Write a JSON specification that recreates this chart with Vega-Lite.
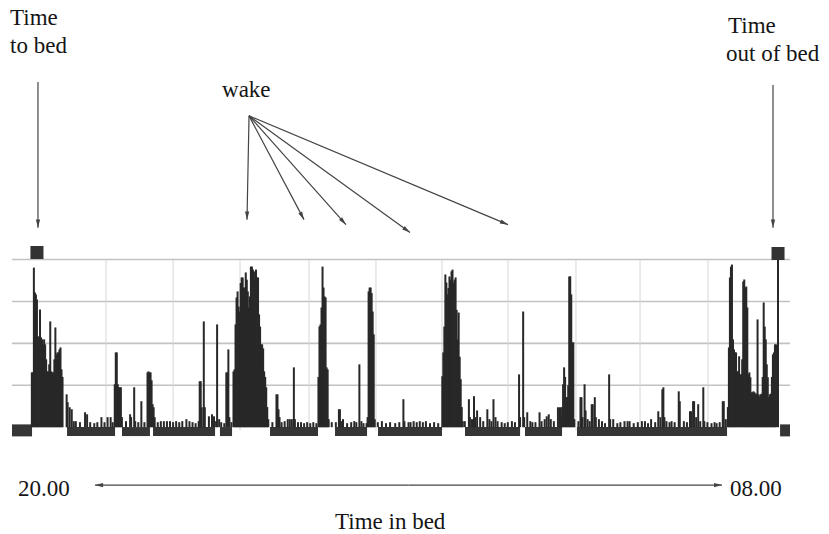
{
"$schema": "https://vega.github.io/schema/vega-lite/v6.json",
"width": 829, "height": 534,
"autosize": {"type": "fit", "contains": "padding"},
"padding": 0,
"background": "white",
"config": {"view": {"stroke": null}},
"datasets": {
"hgrid": [{"c":250,"a":-26.4,"b":733.7},{"c":500,"a":-26.4,"b":733.7},{"c":750,"a":-26.4,"b":733.7},{"c":1000,"a":-26.4,"b":733.7}],
"vgrid": [{"m":65.5,"a":1000,"b":-20},{"m":131,"a":1000,"b":-20},{"m":196.4,"a":1000,"b":-20},{"m":263.8,"a":1000,"b":-20},{"m":329.2,"a":1000,"b":-20},{"m":393.7,"a":1000,"b":-20},{"m":458.2,"a":1000,"b":-20},{"m":524.6,"a":1000,"b":-20},{"m":587.2,"a":1000,"b":-20},{"m":653.6,"a":1000,"b":-20}],
"sleep": [{"s":27.4,"e":74.3,"lvl":-26},{"s":81.1,"e":108.4,"lvl":-26},{"s":111.4,"e":172,"lvl":-26},{"s":176.8,"e":188.6,"lvl":-26},{"s":225.7,"e":272.6,"lvl":-26},{"s":289.2,"e":320.5,"lvl":-26},{"s":331.2,"e":393.7,"lvl":-26},{"s":416.2,"e":470,"lvl":-26},{"s":474.8,"e":511,"lvl":-26},{"s":525.6,"e":672.2,"lvl":-26}],
"outbed": [{"s":-26.4,"e":-6.8,"lvl":-19},{"s":724,"e":733.7,"lvl":-19}],
"markers": [{"m":-2,"c":1042},{"m":722,"c":1036}],
"spikes": [
{"m":-7,"c":327},{"m":-6,"c":327},{"m":-5,"c":952},{"m":-4,"c":804},{"m":-3,"c":792},{"m":-2,"c":762},{"m":-1,"c":542},{"m":0,"c":524},{"m":1,"c":702},{"m":2,"c":536},{"m":3,"c":524},{"m":4,"c":494},{"m":5,"c":524},{"m":6,"c":494},{"m":7,"c":405},{"m":8,"c":333},{"m":9,"c":333},{"m":10,"c":375},{"m":11,"c":631},{"m":12,"c":333},{"m":13,"c":327},{"m":14,"c":327},{"m":15,"c":405},{"m":16,"c":595},{"m":17,"c":434},{"m":18,"c":446},{"m":19,"c":446},{"m":20,"c":464},{"m":21,"c":476},{"m":22,"c":345},{"m":23,"c":300},
{"m":27,"c":196},{"m":28,"c":149},{"m":30,"c":119},{"m":32,"c":107},{"m":34,"c":36},{"m":36,"c":36},{"m":40,"c":30},{"m":45,"c":89},{"m":47,"c":77},{"m":50,"c":30},{"m":54,"c":24},{"m":57,"c":30},{"m":61,"c":60},{"m":64,"c":30},{"m":67,"c":60},{"m":70,"c":60},{"m":72,"c":30},
{"m":74,"c":256},{"m":75,"c":446},{"m":76,"c":446},{"m":77,"c":256},{"m":78,"c":238},{"m":79,"c":238},{"m":80,"c":238},{"m":81,"c":60},{"m":85,"c":36},{"m":89,"c":77},{"m":90,"c":60},{"m":93,"c":238},{"m":94,"c":36},{"m":97,"c":30},{"m":100,"c":155},{"m":103,"c":30},
{"m":106,"c":327},{"m":107,"c":333},{"m":108,"c":327},{"m":109,"c":327},{"m":110,"c":280},{"m":111,"c":137},{"m":112,"c":119},{"m":113,"c":60},{"m":116,"c":30},{"m":119,"c":36},{"m":122,"c":36},{"m":125,"c":36},{"m":128,"c":36},{"m":131,"c":30},{"m":134,"c":36},{"m":137,"c":30},{"m":140,"c":36},{"m":144,"c":48},{"m":147,"c":36},{"m":150,"c":30},{"m":153,"c":24},{"m":156,"c":36},{"m":157,"c":274},{"m":158,"c":274},{"m":159,"c":119},{"m":161,"c":631},{"m":162,"c":119},{"m":166,"c":65},{"m":169,"c":77},{"m":171,"c":65},{"m":173,"c":36},{"m":174,"c":613},{"m":176,"c":48},{"m":178,"c":30},{"m":181,"c":24},{"m":183,"c":327},{"m":184,"c":327},{"m":185,"c":464},{"m":186,"c":60},{"m":188,"c":30},
{"m":190,"c":333},{"m":191,"c":345},{"m":192,"c":613},{"m":193,"c":774},{"m":194,"c":810},{"m":195,"c":720},{"m":196,"c":690},{"m":197,"c":860},{"m":198,"c":893},{"m":199,"c":893},{"m":200,"c":833},{"m":201,"c":833},{"m":202,"c":923},{"m":203,"c":880},{"m":204,"c":810},{"m":205,"c":714},{"m":206,"c":780},{"m":207,"c":958},{"m":208,"c":958},{"m":209,"c":940},{"m":210,"c":929},{"m":211,"c":880},{"m":212,"c":940},{"m":213,"c":893},{"m":214,"c":893},{"m":215,"c":673},{"m":216,"c":600},{"m":217,"c":494},{"m":218,"c":494},{"m":219,"c":470},{"m":220,"c":333},{"m":221,"c":300},{"m":222,"c":238},{"m":223,"c":120},{"m":224,"c":48},
{"m":228,"c":30},{"m":232,"c":196},{"m":233,"c":196},{"m":234,"c":107},{"m":235,"c":60},{"m":237,"c":30},{"m":240,"c":36},{"m":243,"c":48},{"m":245,"c":48},{"m":247,"c":48},{"m":249,"c":357},{"m":250,"c":48},{"m":253,"c":30},{"m":256,"c":30},{"m":259,"c":24},{"m":262,"c":30},{"m":265,"c":24},{"m":268,"c":30},{"m":271,"c":24},
{"m":273,"c":300},{"m":274,"c":601},{"m":275,"c":613},{"m":276,"c":714},{"m":277,"c":958},{"m":278,"c":833},{"m":279,"c":780},{"m":280,"c":774},{"m":281,"c":357},{"m":282,"c":345},{"m":283,"c":48},
{"m":286,"c":30},{"m":290,"c":30},{"m":293,"c":107},{"m":294,"c":107},{"m":295,"c":36},{"m":297,"c":48},{"m":301,"c":24},{"m":305,"c":30},{"m":308,"c":36},{"m":310,"c":30},{"m":313,"c":375},{"m":315,"c":36},{"m":317,"c":24},{"m":320,"c":24},
{"m":321,"c":60},{"m":322,"c":810},{"m":323,"c":833},{"m":324,"c":833},{"m":325,"c":800},{"m":326,"c":690},{"m":327,"c":554},{"m":328,"c":48},
{"m":331,"c":30},{"m":335,"c":36},{"m":339,"c":24},{"m":343,"c":30},{"m":348,"c":24},{"m":352,"c":30},{"m":356,"c":167},{"m":357,"c":36},{"m":361,"c":30},{"m":363,"c":30},{"m":366,"c":36},{"m":369,"c":30},{"m":372,"c":36},{"m":375,"c":30},{"m":378,"c":36},{"m":382,"c":24},{"m":386,"c":30},{"m":390,"c":24},
{"m":394,"c":304},{"m":395,"c":446},{"m":396,"c":600},{"m":397,"c":911},{"m":398,"c":863},{"m":399,"c":792},{"m":400,"c":830},{"m":401,"c":899},{"m":402,"c":880},{"m":403,"c":930},{"m":404,"c":940},{"m":405,"c":863},{"m":406,"c":880},{"m":407,"c":893},{"m":408,"c":700},{"m":409,"c":524},{"m":410,"c":684},{"m":411,"c":420},{"m":412,"c":286},{"m":413,"c":120},{"m":414,"c":36},
{"m":416,"c":36},{"m":420,"c":167},{"m":421,"c":60},{"m":423,"c":48},{"m":425,"c":185},{"m":426,"c":60},{"m":428,"c":100},{"m":431,"c":60},{"m":434,"c":36},{"m":438,"c":107},{"m":440,"c":48},{"m":442,"c":36},{"m":444,"c":167},{"m":446,"c":60},{"m":448,"c":36},{"m":452,"c":30},{"m":455,"c":24},{"m":458,"c":30},{"m":462,"c":36},{"m":465,"c":30},{"m":469,"c":315},{"m":470,"c":60},{"m":473,"c":690},{"m":474,"c":60},{"m":477,"c":89},{"m":480,"c":36},{"m":482,"c":30},{"m":485,"c":30},{"m":489,"c":89},{"m":491,"c":36},{"m":494,"c":48},{"m":496,"c":65},{"m":498,"c":77},{"m":500,"c":48},{"m":503,"c":36},{"m":507,"c":119},{"m":509,"c":119},{"m":510,"c":60},
{"m":511,"c":120},{"m":512,"c":256},{"m":513,"c":357},{"m":514,"c":300},{"m":515,"c":179},{"m":516,"c":179},{"m":517,"c":250},{"m":518,"c":899},{"m":519,"c":900},{"m":520,"c":792},{"m":521,"c":506},{"m":522,"c":506},{"m":523,"c":48},
{"m":527,"c":36},{"m":529,"c":179},{"m":530,"c":179},{"m":531,"c":60},{"m":533,"c":256},{"m":534,"c":100},{"m":536,"c":48},{"m":538,"c":36},{"m":540,"c":137},{"m":541,"c":137},{"m":543,"c":179},{"m":544,"c":60},{"m":547,"c":48},{"m":550,"c":36},{"m":553,"c":24},{"m":557,"c":315},{"m":558,"c":48},{"m":561,"c":48},{"m":565,"c":24},{"m":568,"c":30},{"m":572,"c":36},{"m":575,"c":36},{"m":577,"c":36},{"m":581,"c":24},{"m":585,"c":30},{"m":589,"c":36},{"m":592,"c":36},{"m":595,"c":24},{"m":598,"c":48},{"m":602,"c":30},{"m":605,"c":95},{"m":607,"c":60},{"m":609,"c":226},{"m":610,"c":238},{"m":611,"c":60},{"m":613,"c":36},{"m":616,"c":30},{"m":618,"c":36},{"m":621,"c":30},{"m":625,"c":214},{"m":626,"c":155},{"m":630,"c":36},{"m":633,"c":30},{"m":636,"c":95},{"m":637,"c":95},{"m":639,"c":155},{"m":640,"c":155},{"m":642,"c":60},{"m":644,"c":137},{"m":646,"c":36},{"m":649,"c":238},{"m":650,"c":36},{"m":653,"c":30},{"m":657,"c":24},{"m":660,"c":30},{"m":662,"c":24},{"m":665,"c":30},{"m":668,"c":155},{"m":669,"c":155},{"m":671,"c":48},
{"m":673,"c":120},{"m":674,"c":476},{"m":675,"c":893},{"m":676,"c":958},{"m":677,"c":970},{"m":678,"c":524},{"m":679,"c":464},{"m":680,"c":446},{"m":681,"c":446},{"m":682,"c":333},{"m":683,"c":333},{"m":684,"c":423},{"m":685,"c":315},{"m":686,"c":315},{"m":687,"c":405},{"m":688,"c":869},{"m":689,"c":881},{"m":690,"c":833},{"m":691,"c":839},{"m":692,"c":714},{"m":693,"c":315},{"m":694,"c":327},{"m":695,"c":298},{"m":696,"c":208},{"m":697,"c":208},{"m":698,"c":214},{"m":699,"c":208},{"m":700,"c":200},{"m":701,"c":200},{"m":702,"c":643},{"m":703,"c":196},{"m":704,"c":185},{"m":705,"c":196},{"m":706,"c":200},{"m":707,"c":300},{"m":708,"c":744},{"m":709,"c":600},{"m":710,"c":524},{"m":711,"c":375},{"m":712,"c":298},{"m":713,"c":179},{"m":714,"c":196},{"m":715,"c":200},{"m":716,"c":300},{"m":717,"c":434},{"m":718,"c":446},{"m":719,"c":494},{"m":720,"c":494},{"m":722,"c":1000}
],
"arrows": [
{"x":-1,"y":2059,"x2":-1,"y2":1190},
{"x":717.1,"y":2041,"x2":717.1,"y2":1190},
{"x":205.2,"y":1857,"x2":203.2,"y2":1238},
{"x":205.2,"y":1857,"x2":258.9,"y2":1238},
{"x":205.2,"y":1857,"x2":299.9,"y2":1208},
{"x":205.2,"y":1857,"x2":362.5,"y2":1161},
{"x":205.2,"y":1857,"x2":458.2,"y2":1208},
{"x":361,"y":-345,"x2":54.7,"y2":-345},
{"x":361,"y":-345,"x2":667.3,"y2":-345}
],
"labels": [
{"t":"Time","x":-28.3,"y":2399},
{"t":"to bed","x":-28.3,"y":2232},
{"t":"Time","x":673.2,"y":2351},
{"t":"out of bed","x":671.2,"y":2184},
{"t":"wake","x":178.8,"y":1970},
{"t":"20.00","x":-20.5,"y":-411},
{"t":"08.00","x":675.1,"y":-411},
{"t":"Time in bed","x":289.2,"y":-607}
]
},
"layer": [
{
"data": {"name": "hgrid"},
"mark": {"type": "rule", "color": "#c2c2c2", "strokeWidth": 1.6},
"encoding": {
"y": {"field": "c", "type": "quantitative", "axis": null, "scale": {"domain": [-631, 2548], "nice": false, "zero": false}},
"x": {"field": "a", "type": "quantitative", "axis": null, "scale": {"domain": [-38.1, 771.8], "nice": false, "zero": false}},
"x2": {"field": "b"}
}
},
{
"data": {"name": "vgrid"},
"mark": {"type": "rule", "color": "#d6d6d6", "strokeWidth": 1},
"encoding": {
"x": {"field": "m", "type": "quantitative", "axis": null, "scale": {"domain": [-38.1, 771.8], "nice": false, "zero": false}},
"y": {"field": "a", "type": "quantitative", "axis": null, "scale": {"domain": [-631, 2548], "nice": false, "zero": false}},
"y2": {"field": "b"}
}
},
{
"data": {"name": "sleep"},
"mark": {"type": "rule", "color": "#353535", "strokeWidth": 9},
"encoding": {
"x": {"field": "s", "type": "quantitative", "axis": null, "scale": {"domain": [-38.1, 771.8], "nice": false, "zero": false}},
"x2": {"field": "e"},
"y": {"field": "lvl", "type": "quantitative", "axis": null, "scale": {"domain": [-631, 2548], "nice": false, "zero": false}}
}
},
{
"data": {"name": "outbed"},
"mark": {"type": "rule", "color": "#353535", "strokeWidth": 12},
"encoding": {
"x": {"field": "s", "type": "quantitative", "axis": null, "scale": {"domain": [-38.1, 771.8], "nice": false, "zero": false}},
"x2": {"field": "e"},
"y": {"field": "lvl", "type": "quantitative", "axis": null, "scale": {"domain": [-631, 2548], "nice": false, "zero": false}}
}
},
{
"data": {"name": "spikes"},
"mark": {"type": "rule", "color": "#282828", "strokeWidth": 2},
"encoding": {
"x": {"field": "m", "type": "quantitative", "axis": null, "scale": {"domain": [-38.1, 771.8], "nice": false, "zero": false}},
"y": {"field": "c", "type": "quantitative", "axis": null, "scale": {"domain": [-631, 2548], "nice": false, "zero": false}},
"y2": {"datum": 0}
}
},
{
"data": {"name": "markers"},
"mark": {"type": "point", "shape": "square", "filled": true, "size": 170, "color": "#333333", "opacity": 1},
"encoding": {
"x": {"field": "m", "type": "quantitative", "axis": null, "scale": {"domain": [-38.1, 771.8], "nice": false, "zero": false}},
"y": {"field": "c", "type": "quantitative", "axis": null, "scale": {"domain": [-631, 2548], "nice": false, "zero": false}}
}
},
{
"data": {"name": "arrows"},
"mark": {"type": "rule", "color": "#444444", "strokeWidth": 1.2},
"encoding": {
"x": {"field": "x", "type": "quantitative", "axis": null, "scale": {"domain": [-38.1, 771.8], "nice": false, "zero": false}},
"y": {"field": "y", "type": "quantitative", "axis": null, "scale": {"domain": [-631, 2548], "nice": false, "zero": false}},
"x2": {"field": "x2"},
"y2": {"field": "y2"}
}
},
{
"data": {"name": "arrows"},
"transform": [{"calculate": "atan2(-(datum.x2 - datum.x) * 1.0236, -(datum.y2 - datum.y) / 5.953) * 180 / PI", "as": "ang"}],
"mark": {"type": "point", "shape": "M0,0L-0.45,-1.7L0.45,-1.7Z", "filled": true, "size": 90, "color": "#444444", "opacity": 1},
"encoding": {
"x": {"field": "x2", "type": "quantitative", "axis": null, "scale": {"domain": [-38.1, 771.8], "nice": false, "zero": false}},
"y": {"field": "y2", "type": "quantitative", "axis": null, "scale": {"domain": [-631, 2548], "nice": false, "zero": false}},
"angle": {"field": "ang", "type": "quantitative", "scale": {"domain": [-180, 180], "range": [-180, 180], "zero": false, "nice": false}, "legend": null}
}
},
{
"data": {"name": "labels"},
"mark": {"type": "text", "align": "left", "baseline": "alphabetic", "font": "Liberation Serif", "fontSize": 23, "color": "#151515"},
"encoding": {
"x": {"field": "x", "type": "quantitative", "axis": null, "scale": {"domain": [-38.1, 771.8], "nice": false, "zero": false}},
"y": {"field": "y", "type": "quantitative", "axis": null, "scale": {"domain": [-631, 2548], "nice": false, "zero": false}},
"text": {"field": "t", "type": "nominal"}
}
}
]
}
